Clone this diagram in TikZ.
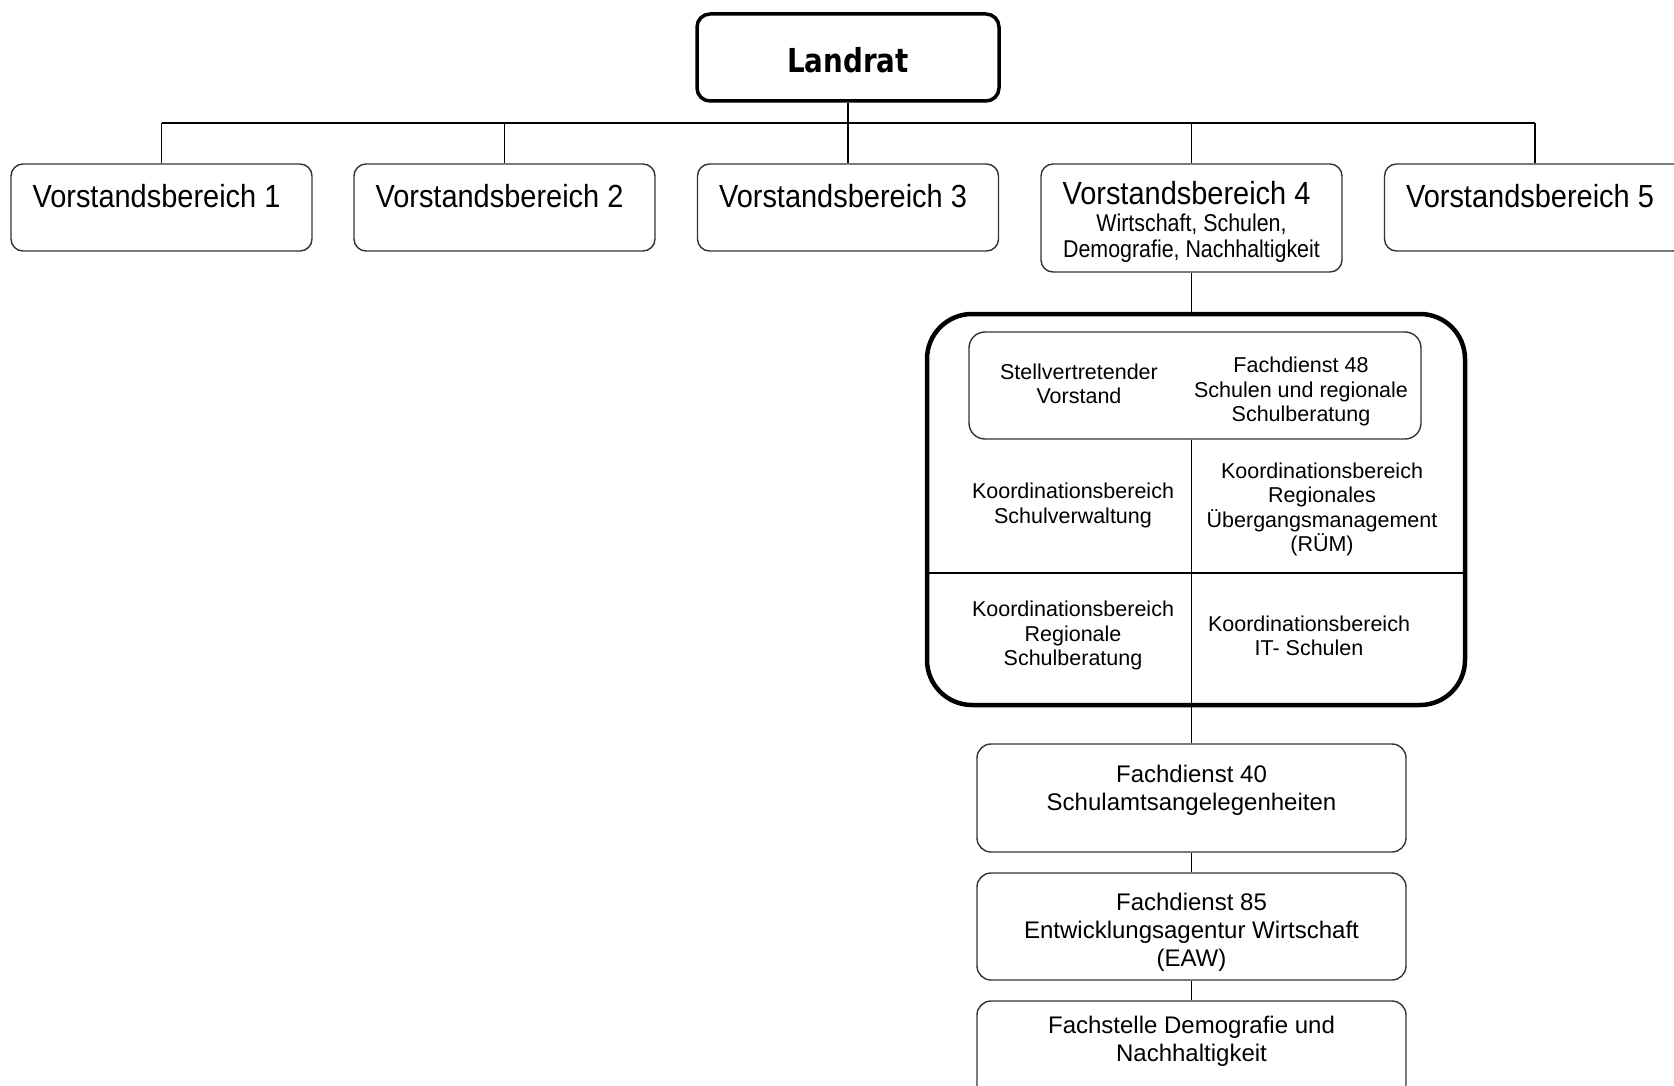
\documentclass[tikz,border=0pt]{standalone}
\usepackage{fontspec}
\setmainfont{Liberation Sans}
\newfontfamily\narrowsans[FakeStretch=0.88]{Liberation Sans}
\newfontfamily\headsans[FakeStretch=0.905]{Liberation Sans}
\newfontfamily\titlesans[FakeStretch=0.84]{DejaVu Sans}
\usepackage{tikz}
\usetikzlibrary{positioning, calc}

\begin{document}
\begin{tikzpicture}[x=1pt, y=-1pt,
  conn/.style={black, line width=1.4pt},
  topbox/.style={draw=black, line width=3.5pt, rounded corners=13pt, fill=white,
    minimum width=302pt, minimum height=87pt},
  vbox/.style={draw=black!80, line width=1.4pt, rounded corners=12pt, fill=white,
    minimum width=301pt, minimum height=87pt},
  vbtext/.style={font=\headsans\fontsize{32}{36}\selectfont, inner sep=0pt},
  groupbox/.style={draw=black, line width=4.5pt, rounded corners=45pt,
    minimum width=538pt, minimum height=391pt},
  innerbox/.style={draw=black!80, line width=1.4pt, rounded corners=16pt,
    minimum width=452pt, minimum height=107pt},
  celltext/.style={align=center, inner sep=0pt,
    font=\fontsize{21.5}{24.2}\selectfont},
  fdbox/.style={draw=black!80, line width=1.4pt, rounded corners=14pt, fill=white,
    minimum width=429pt, minimum height=107pt},
  fdtext/.style={align=center, inner sep=0pt,
    font=\fontsize{24}{27.8}\selectfont}]
  \useasboundingbox (0,0) rectangle (1674,1086);

  % Landrat and the bus line
  \node[topbox] (landrat) at (848,57.5) {};
  \node[inner sep=0pt, font=\titlesans\fontsize{33}{38}\selectfont\bfseries]
    (landratt) at ([yshift=-3pt]landrat.center) {Landrat};
  \coordinate (bus) at (848,123);

  % Vorstandsbereiche 1-5
  \node[vbox] (vb1) at (161.5,207.5) {};
  \node[vbox] (vb2) at (504.5,207.5) {};
  \node[vbox] (vb3) at (848,207.5) {};
  \node[vbox, minimum height=108pt] (vb4) at (1191.5,218) {};
  \node[vbox] (vb5) at (1535,207.5) {};
  \foreach \n in {1,2,3,5}{
    \node[vbtext] (vb\n t) at ([xshift=-5pt,yshift=-33pt]vb\n.north) {Vorstandsbereich \n};
  }
  \node[vbtext] (vb4t) at ([xshift=-5pt,yshift=-30pt]vb4.north) {Vorstandsbereich 4};
  \node[align=center, inner sep=0pt, font=\narrowsans\fontsize{24.3}{26}\selectfont]
    (vb4sub) at ([yshift=-75pt]vb4.north) {Wirtschaft, Schulen,\\Demografie, Nachhaltigkeit};

  \draw[conn] (landrat.south) -- (bus);
  \draw[conn] (vb1.north |- bus) -- (vb5.north |- bus);
  \foreach \n in {1,...,5}{
    \draw[conn] (vb\n.north |- bus) -- (vb\n.north);
  }

  % Fachdienst 48 group
  \node[groupbox] (group) at (1196,509.5) {};
  \node[innerbox] (inner) at (1195,385.5) {};
  \coordinate (midrow) at (1191.5,573);
  \draw[conn] (vb4.south) -- (vb4.south |- group.north);
  \draw[conn] (vb4.south |- inner.south) -- (vb4.south |- group.south);
  \draw[conn] (group.west |- midrow) -- (group.east |- midrow);

  \node[celltext] (stv) at (1079,384) {Stellvertretender\\Vorstand};
  \node[celltext] (fd48) at (1301,391.5) {Fachdienst 48\\Schulen und regionale\\Schulberatung};
  \node[celltext] (kschul) at (1073,505.5) {Koordinationsbereich\\Schulverwaltung};
  \node[celltext] (rum) at (1322,509.5) {Koordinationsbereich\\Regionales\\Übergangsmanagement\\(RÜM)};
  \node[celltext] (kreg) at (1073,635.5) {Koordinationsbereich\\Regionale\\Schulberatung};
  \node[celltext] (kit) at (1309,636) {Koordinationsbereich\\IT- Schulen};

  % Fachdienste below
  \node[fdbox, minimum height=108pt] (fd40) at (1191.5,798) {};
  \node[fdtext] (fd40t) at ([yshift=8pt]fd40.center) {Fachdienst 40\\Schulamtsangelegenheiten};
  \node[fdbox] (fd85) at (1191.5,926.5) {};
  \node[fdtext] (fd85t) at ([yshift=-6pt]fd85.center) {Fachdienst 85\\Entwicklungsagentur Wirtschaft\\(EAW)};
  \node[fdbox] (fsd) at (1191.5,1054.5) {};
  \node[fdtext] (fsdt) at ([yshift=13pt]fsd.center) {Fachstelle Demografie und\\Nachhaltigkeit};

  \draw[conn] (vb4.south |- group.south) -- (fd40.north);
  \draw[conn] (fd40.south) -- (fd85.north);
  \draw[conn] (fd85.south) -- (fsd.north);
\end{tikzpicture}
\end{document}
